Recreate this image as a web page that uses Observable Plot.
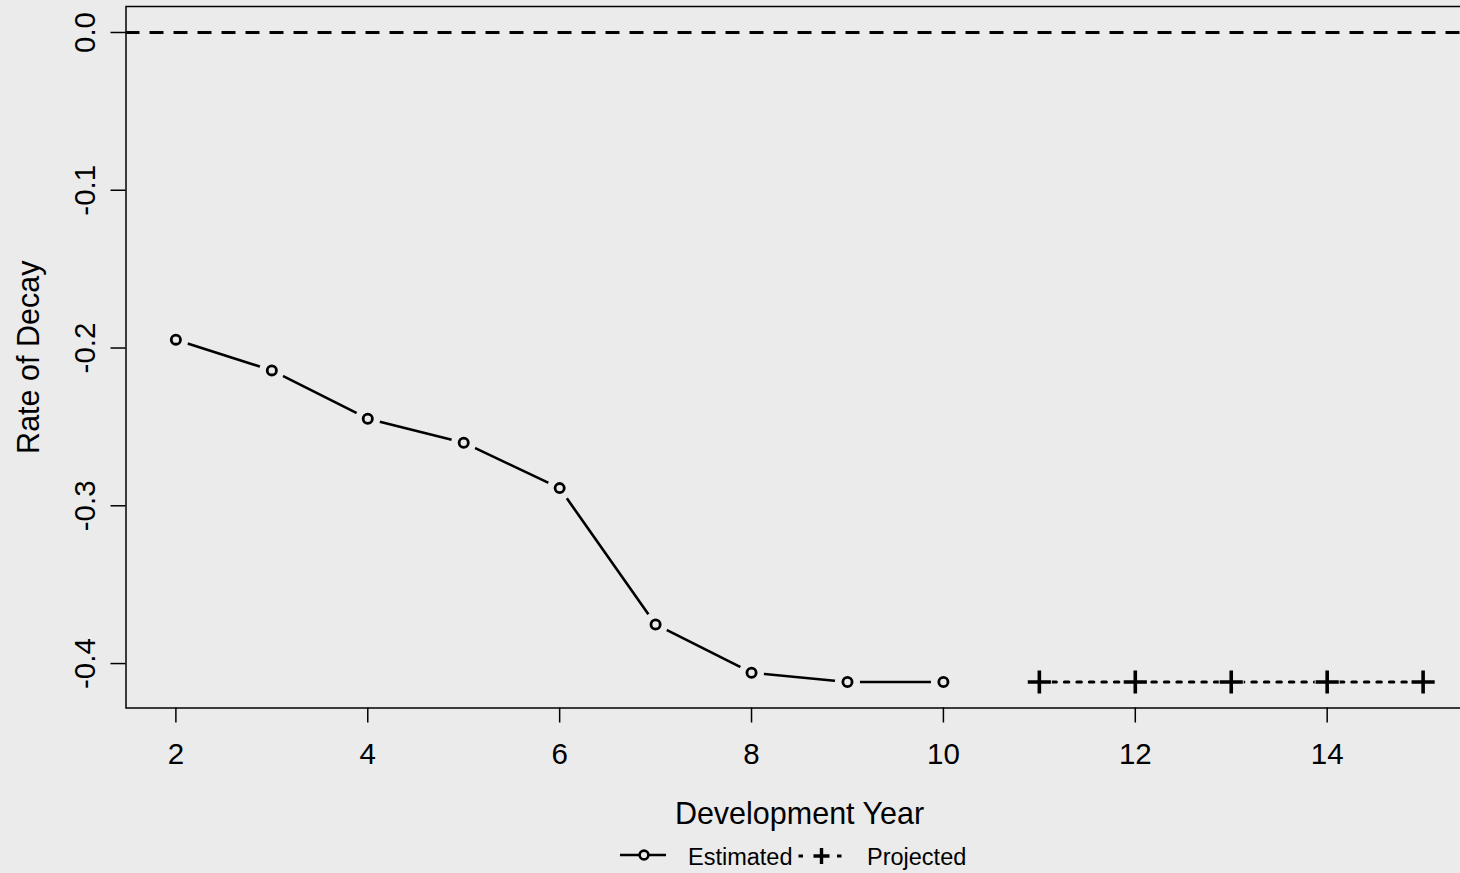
<!DOCTYPE html>
<html><head><meta charset="utf-8">
<script src="https://cdn.jsdelivr.net/npm/d3@7"></script>
<script src="https://cdn.jsdelivr.net/npm/@observablehq/plot@0.6"></script>
<style>
html,body{margin:0;padding:0;background:#ebebeb;overflow:hidden;width:1460px;height:873px;}
#chart{width:1460px;overflow:hidden;}
#chart svg{max-width:none !important;}
#legend{position:relative;height:38px;font-family:"Liberation Sans",Arial,sans-serif;font-size:23.5px;color:#000;}
#legend span{position:absolute;line-height:23.5px;white-space:nowrap;}
#legend svg{position:absolute;}
</style></head><body>
<div id="chart"></div>
<div id="legend"></div>
<script>
const estYears = [2, 3, 4, 5, 6, 7, 8, 9, 10];
const estValues = [-0.1947, -0.2142, -0.2448, -0.2600, -0.2888, -0.3752, -0.4058, -0.4117, -0.4117];
const projYears = [11, 12, 13, 14, 15];
const projValues = [-0.4117, -0.4117, -0.4117, -0.4117, -0.4117];
const xTicks = [2, 4, 6, 8, 10, 12, 14];
const yTicks = [0, -0.1, -0.2, -0.3, -0.4];
const xLabel = "Development Year";
const yLabel = "Rate of Decay";
const seriesNames = ["Estimated", "Projected"];

const estimated = estYears.map((x, i) => ({x, y: estValues[i]}));
const projected = projYears.map((x, i) => ({x, y: projValues[i]}));
const all = estimated.concat(projected);
const bg = "#ebebeb";
const W = 1480, H = 835;
const font = '"Liberation Sans", Arial, sans-serif';

const chart = Plot.plot({
  width: W, height: H,
  marginLeft: 125.5, marginRight: 7.5, marginTop: 6, marginBottom: H - 707.5,
  x: {domain: [1.48, 15.52]},
  y: {domain: [-0.42817, 0.01647]},
  style: {background: bg, fontFamily: font, color: "#000", overflow: "visible", maxWidth: "none"},
  marks: [
    Plot.ruleY([0], {stroke: "#000", strokeWidth: 3, strokeDasharray: "14,10"}),
    Plot.line(estimated, {x: "x", y: "y", stroke: "#000", strokeWidth: 2.6}),
    Plot.line(projected, {x: "x", y: "y", stroke: "#000", strokeWidth: 3, strokeDasharray: "4.5,8"}),
    Plot.dot(all, {x: "x", y: "y", r: 12.5, fill: bg, stroke: null}),
    Plot.dot(estimated, {x: "x", y: "y", r: 4.6, stroke: "#000", strokeWidth: 2.8, fill: "none"}),
    Plot.dot(projected, {x: "x", y: "y", r: 7.5, symbol: "plus", stroke: "#000", strokeWidth: 3.6}),
    Plot.frame({stroke: "#000", strokeWidth: 1.5}),
    Plot.axisX({ticks: xTicks, tickSize: 15, fill: "none", stroke: "#000", strokeWidth: 1.5, label: null}),
    Plot.axisY({ticks: yTicks, tickSize: 15, fill: "none", stroke: "#000", strokeWidth: 1.5, label: null}),
    Plot.text(xTicks, {x: d => d, text: d => String(d), frameAnchor: "bottom", lineAnchor: "middle", textAnchor: "middle", dy: 46.5, fontSize: 29.5, fill: "#000"}),
    Plot.text(yTicks, {y: d => d, text: d => d.toFixed(1), frameAnchor: "left", lineAnchor: "middle", textAnchor: "middle", dx: -40.5, rotate: -90, fontSize: 29.5, fill: "#000"}),
    Plot.text([xLabel], {text: d => d, frameAnchor: "bottom", lineAnchor: "middle", textAnchor: "middle", dy: 106, fontSize: 30.5, fill: "#000"}),
    Plot.text([yLabel], {text: d => d, frameAnchor: "left", lineAnchor: "middle", textAnchor: "middle", dx: -97, rotate: -90, fontSize: 30.5, fill: "#000"})
  ]
});
document.getElementById("chart").appendChild(chart);

const legend = document.getElementById("legend");
legend.innerHTML =
  `<svg width="46" height="20" style="left:620px;top:10px"><line x1="0" y1="10" x2="46" y2="10" stroke="#000" stroke-width="2.6"/><circle cx="24" cy="10" r="4.4" fill="${bg}" stroke="#000" stroke-width="2.6"/></svg>` +
  `<span style="left:688px;top:11px">${seriesNames[0]}</span>` +
  `<svg width="48" height="24" style="left:797px;top:8.5px"><line x1="1.5" y1="12" x2="6" y2="12" stroke="#000" stroke-width="3"/><line x1="40" y1="12" x2="44.5" y2="12" stroke="#000" stroke-width="3"/><path d="M16.5,12H32.5M24.5,4V20" stroke="#000" stroke-width="3.4" fill="none"/></svg>` +
  `<span style="left:867px;top:11px">${seriesNames[1]}</span>`;
</script>
</body></html>
